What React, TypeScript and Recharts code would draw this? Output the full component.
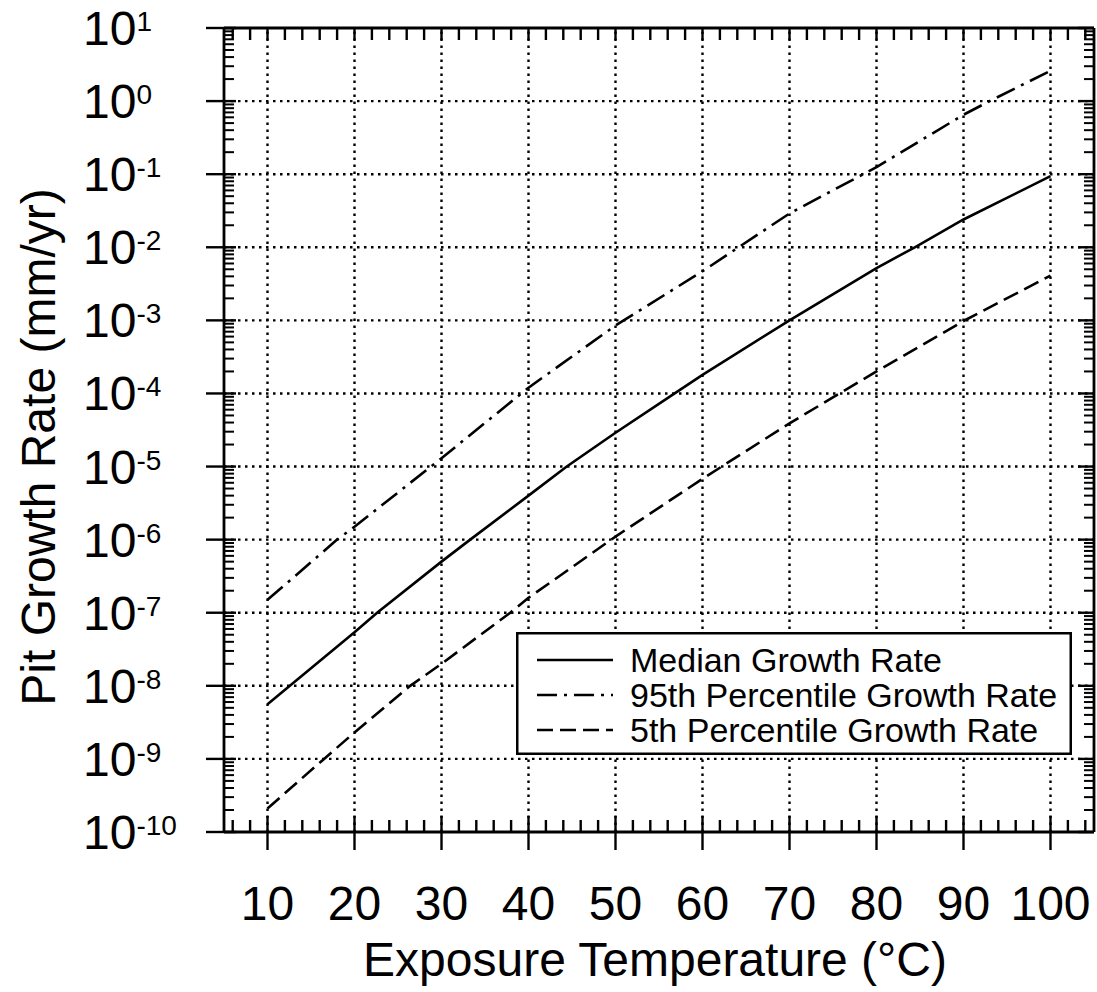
import React from 'react';
import { LineChart, Line, XAxis, YAxis, ReferenceLine, Legend } from 'recharts';

const FONT = '"Liberation Sans", Arial, Helvetica, sans-serif';

// Temperatures (°C) and pit growth rates (mm/yr)
const medianTemps = [10, 20, 22.6, 30, 33.3, 40, 44.4, 50, 56.8, 60, 70, 80, 84.4, 90, 100];
const medianRates = [5.6e-9, 5.4e-8, 1.0e-7, 5.0e-7, 1.0e-6, 4.0e-6, 1.0e-5, 2.9e-5, 1.0e-4, 1.8e-4, 1.0e-3, 5.2e-3, 1.0e-2, 2.4e-2, 9.4e-2];

const p95Temps = [10, 18, 20, 30, 40, 50, 60, 70, 80, 90, 93, 100];
const p95Rates = [1.5e-7, 1.0e-6, 1.5e-6, 1.3e-5, 1.2e-4, 8.5e-4, 4.7e-3, 2.9e-2, 0.125, 0.65, 1.0, 2.6];

const p5Temps = [10, 16.5, 20, 26.4, 30, 37.9, 40, 50, 60, 70, 80, 90, 100];
const p5Rates = [2.1e-10, 1.0e-9, 2.3e-9, 1.0e-8, 2.0e-8, 1.0e-7, 1.6e-7, 1.1e-6, 6.8e-6, 3.9e-5, 2.0e-4, 9.8e-4, 4.1e-3];

const seriesNames = ['Median Growth Rate', '95th Percentile Growth Rate', '5th Percentile Growth Rate'];
const seriesDashes = ['', '20 7 3 7', '16 7'];

const xMajorTicks = [10, 20, 30, 40, 50, 60, 70, 80, 90, 100];
const xMinorTicks = [6, 8, 12, 14, 16, 18, 22, 24, 26, 28, 32, 34, 36, 38, 42, 44, 46, 48, 52, 54, 56, 58, 62, 64, 66, 68, 72, 74, 76, 78, 82, 84, 86, 88, 92, 94, 96, 98, 102, 104];
const xDomain = [5, 105];

const yMajorTicks = [1e-10, 1e-9, 1e-8, 1e-7, 1e-6, 1e-5, 1e-4, 1e-3, 1e-2, 1e-1, 1e0, 1e1];
const yMinorMultipliers = [2, 3, 4, 5, 6, 7, 8, 9];
const yDomain = [1e-10, 1e1];

const toPoints = (temps: number[], rates: number[]) => temps.map((t, i) => ({ t, r: rates[i] }));
const medianData = toPoints(medianTemps, medianRates);
const p95Data = toPoints(p95Temps, p95Rates);
const p5Data = toPoints(p5Temps, p5Rates);

const xTicks = [...xMinorTicks, ...xMajorTicks].sort((a, b) => a - b);
const yMinorTicks: number[] = [];
yMajorTicks.slice(0, -1).forEach((d) => yMinorMultipliers.forEach((m) => yMinorTicks.push(m * d)));
const yTicks = [...yMajorTicks, ...yMinorTicks].sort((a, b) => a - b);

const isMajorY = (v: number) => Math.abs(Math.log10(v) - Math.round(Math.log10(v))) < 1e-6;
const SW = 2.4;

const BottomTick = (p: any) => {
  const { x, y, payload } = p;
  const v = payload.value;
  if (xMajorTicks.includes(v)) {
    return (
      <g>
        <line x1={x} x2={x} y1={y - 16} y2={y + 18} stroke="#000" strokeWidth={SW} />
        <text x={x} y={y + 88} textAnchor="middle" fontSize={48} fontFamily={FONT} fill="#000">
          {v}
        </text>
      </g>
    );
  }
  return <line x1={x} x2={x} y1={y} y2={y - 12} stroke="#000" strokeWidth={SW} />;
};

const TopTick = (p: any) => {
  const { x, y } = p;
  return <line x1={x} x2={x} y1={y} y2={y + 12} stroke="#000" strokeWidth={SW} />;
};

const LeftTick = (p: any) => {
  const { x, y, payload } = p;
  const v = payload.value;
  if (isMajorY(v)) {
    const e = Math.round(Math.log10(v));
    return (
      <g>
        <line x1={x - 18} x2={x + 12} y1={y} y2={y} stroke="#000" strokeWidth={SW} />
        <text x={x - 141} y={y + 17} fontSize={48} fontFamily={FONT} fill="#000">
          <tspan>10</tspan>
          <tspan fontSize={28} dy={-14}>{String(e)}</tspan>
        </text>
      </g>
    );
  }
  return <line x1={x} x2={x + 10} y1={y} y2={y} stroke="#000" strokeWidth={2} />;
};

const RightTick = (p: any) => {
  const { x, y, payload } = p;
  const v = payload.value;
  const len = isMajorY(v) ? 16 : 10;
  return <line x1={x - len} x2={x} y1={y} y2={y} stroke="#000" strokeWidth={isMajorY(v) ? SW : 2} />;
};

const XTitle = (props: any) => {
  const vb = props.viewBox || { x: 224, y: 832, width: 870, height: 160 };
  return (
    <text x={vb.x + vb.width / 2 - 4} y={vb.y + 144} textAnchor="middle" fontSize={48} fontFamily={FONT} fill="#000">
      Exposure Temperature (°C)
    </text>
  );
};

const YTitle = (props: any) => {
  const vb = props.viewBox || { x: 0, y: 28, width: 224, height: 804 };
  const cx = vb.x + 55;
  const cy = vb.y + vb.height / 2 + 17;
  return (
    <text x={cx} y={cy} transform={`rotate(-90, ${cx}, ${cy})`} textAnchor="middle" fontSize={48} fontFamily={FONT} fill="#000">
      Pit Growth Rate (mm/yr)
    </text>
  );
};

const LegendBox = () => (
  <svg width={556} height={123} style={{ display: 'block' }}>
    <rect x={1.25} y={1.25} width={553.5} height={120.5} fill="#fff" stroke="#000" strokeWidth={2.5} />
    {seriesNames.map((name, i) => (
      <g key={name}>
        <line x1={21} x2={97} y1={28 + 35 * i} y2={28 + 35 * i} stroke="#000" strokeWidth={2.4} strokeDasharray={seriesDashes[i] || undefined} />
        <text x={114} y={40 + 35 * i} fontSize={34} fontFamily={FONT} fill="#000">
          {name}
        </text>
      </g>
    ))}
  </svg>
);

export default function App() {
  const axisLine = { stroke: '#000', strokeWidth: 2.8 };
  const grid = { stroke: '#000', strokeWidth: 2.4, strokeDasharray: '2.5 4.5' };
  return (
    <div style={{ position: 'absolute', left: 0, top: 0, background: '#fff' }}>
      <LineChart width={1097} height={992} margin={{ top: 27, right: 2, bottom: 0, left: 0 }}>
        <XAxis
          xAxisId="b"
          type="number"
          dataKey="t"
          domain={xDomain}
          ticks={xTicks}
          interval={0}
          allowDataOverflow
          orientation="bottom"
          height={160}
          axisLine={axisLine}
          tickLine={false}
          tickSize={0}
          tickMargin={0}
          tick={BottomTick}
          label={{ content: XTitle }}
        />
        <XAxis
          xAxisId="t"
          type="number"
          dataKey="t"
          domain={xDomain}
          ticks={xTicks}
          interval={0}
          allowDataOverflow
          orientation="top"
          height={1}
          axisLine={axisLine}
          tickLine={false}
          tickSize={0}
          tickMargin={0}
          tick={TopTick}
        />
        <YAxis
          yAxisId="l"
          type="number"
          scale="log"
          domain={yDomain}
          ticks={yTicks}
          interval={0}
          allowDataOverflow
          orientation="left"
          width={224}
          axisLine={axisLine}
          tickLine={false}
          tickSize={0}
          tickMargin={0}
          tick={LeftTick}
          label={{ content: YTitle }}
        />
        <YAxis
          yAxisId="r"
          type="number"
          scale="log"
          domain={yDomain}
          ticks={yTicks}
          interval={0}
          allowDataOverflow
          orientation="right"
          width={1}
          axisLine={axisLine}
          tickLine={false}
          tickSize={0}
          tickMargin={0}
          tick={RightTick}
        />
        {xMajorTicks.map((t) => (
          <ReferenceLine key={'gx' + t} xAxisId="b" yAxisId="l" x={t} {...grid} />
        ))}
        {yMajorTicks.slice(1, -1).map((v) => (
          <ReferenceLine key={'gy' + v} xAxisId="b" yAxisId="l" y={v} {...grid} />
        ))}
        <Line xAxisId="b" yAxisId="l" data={medianData} dataKey="r" name={seriesNames[0]} type="linear" stroke="#000" strokeWidth={2.6} dot={false} isAnimationActive={false} />
        <Line xAxisId="b" yAxisId="l" data={p95Data} dataKey="r" name={seriesNames[1]} type="linear" stroke="#000" strokeWidth={2.6} strokeDasharray={seriesDashes[1]} dot={false} isAnimationActive={false} />
        <Line xAxisId="b" yAxisId="l" data={p5Data} dataKey="r" name={seriesNames[2]} type="linear" stroke="#000" strokeWidth={2.6} strokeDasharray={seriesDashes[2]} dot={false} isAnimationActive={false} />
        <Legend
          layout="vertical"
          align="center"
          verticalAlign="middle"
          content={LegendBox}
          wrapperStyle={{ position: 'absolute', left: 516, top: 632, width: 556, height: 123 }}
        />
      </LineChart>
    </div>
  );
}
